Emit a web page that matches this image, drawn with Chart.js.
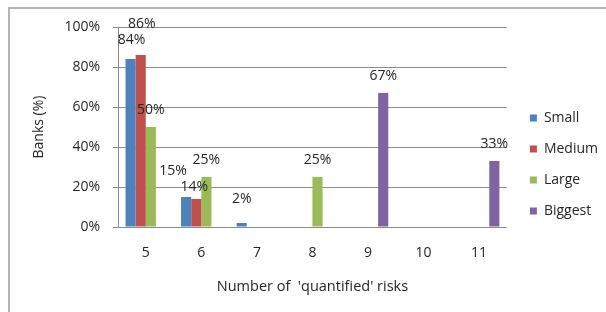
<!DOCTYPE html>
<html>
<head>
<meta charset="utf-8">
<script src="https://cdn.jsdelivr.net/npm/chart.js@4.4.1/dist/chart.umd.min.js"></script>
<style>
  html, body { margin: 0; padding: 0; background: #fff; }
  #wrap { position: relative; width: 606px; height: 312px; overflow: hidden; }
  #frame { position: absolute; left: 8px; top: 7px; width: 620px; height: 320px;
           border-top: 2px solid #b4b4b4; border-left: 2px solid #b4b4b4; }
  canvas { position: absolute; left: 0; top: 0; }
</style>
</head>
<body>
<div id="wrap">
  <div id="frame"></div>
  <canvas id="chart" width="606" height="312"></canvas>
</div>
<script>
// data (% of banks)
const categories = ['5', '6', '7', '8', '9', '10', '11'];
const small   = [84, 15, 2, 0, 0, 0, 0];
const medium  = [86, 14, 0, 0, 0, 0, 0];
const large   = [50, 25, 0, 25, 0, 0, 0];
const biggest = [0, 0, 0, 0, 67, 0, 33];
const yTicks  = [0, 20, 40, 60, 80, 100];

const fontFamily = "'Open Sans', 'Liberation Sans', sans-serif";
const textColor = '#262626';

// nudges for labels that Excel moved around to avoid overlap (dataset, index, dx, dy)
const labelNudges = [
    [0, 0, 1, -2], [1, 0, 1, -14], [0, 1, -13, -9], [1, 1, -2, 5], [0, 2, 0, -7]
];

const barLabels = {
    id: 'barLabels',
    afterDatasetsDraw(chart) {
        const ctx = chart.ctx;
        ctx.save();
        ctx.font = '14px ' + fontFamily;
        ctx.fillStyle = textColor;
        ctx.textAlign = 'center';
        ctx.textBaseline = 'middle';
        chart.data.datasets.forEach((ds, di) => {
            chart.getDatasetMeta(di).data.forEach((bar, i) => {
                const v = ds.data[i];
                if (!v) return;
                let dx = 0, dy = 0;
                labelNudges.forEach(n => {
                    if (n[0] === di && n[1] === i) { dx = n[2]; dy = n[3]; }
                });
                ctx.fillText(v + '%', bar.x + dx, bar.y - 17 + dy);
            });
        });
        ctx.restore();
    }
};

// move the legend a bit right and up, like the Excel one
const legendShift = {
    id: 'legendShift',
    afterLayout(chart) {
        const lg = chart.legend;
        lg.left += 6; lg.right += 6;
        lg.top -= 5; lg.bottom -= 5;
    }
};

Chart.defaults.font.family = fontFamily;
Chart.defaults.font.size = 14;
Chart.defaults.color = textColor;

new Chart(document.getElementById('chart'), {
    type: 'bar',
    data: {
        labels: categories,
        datasets: [
            { label: 'Small', data: small, backgroundColor: '#4f81bd' },
            { label: 'Medium', data: medium, backgroundColor: '#c0504d' },
            { label: 'Large', data: large, backgroundColor: '#9bbb59' },
            { label: 'Biggest', data: biggest, backgroundColor: '#8064a2' }
        ]
    },
    options: {
        responsive: false,
        animation: false,
        events: [],
        layout: { padding: { left: 0, top: 27, right: 4, bottom: 0 } },
        datasets: { bar: { categoryPercentage: 0.73, barPercentage: 1 } },
        plugins: {
            legend: {
                position: 'right',
                align: 'center',
                labels: { boxWidth: 7, boxHeight: 7, padding: 17, color: textColor }
            },
            tooltip: { enabled: false }
        },
        scales: {
            x: {
                grid: { display: false, drawTicks: false },
                border: { display: false },
                ticks: { padding: 18, color: textColor },
                title: { display: true, text: "Number of  'quantified' risks", font: { size: 14.5 }, padding: { top: 0, bottom: 16 }, color: textColor },
                afterFit: s => { s.height = 85; }
            },
            y: {
                min: 0,
                max: 100,
                afterBuildTicks: s => { s.ticks = yTicks.map(v => ({ value: v })); },
                ticks: { callback: v => v + '%', padding: 13, color: textColor },
                grid: { color: '#8c8c8c', tickLength: 5 },
                border: { color: '#8c8c8c' },
                title: { display: true, text: 'Banks (%)', padding: { top: 31, bottom: 0 }, color: textColor },
                afterFit: s => { s.width = 118; }
            }
        }
    },
    plugins: [barLabels, legendShift]
});
</script>
</body>
</html>
